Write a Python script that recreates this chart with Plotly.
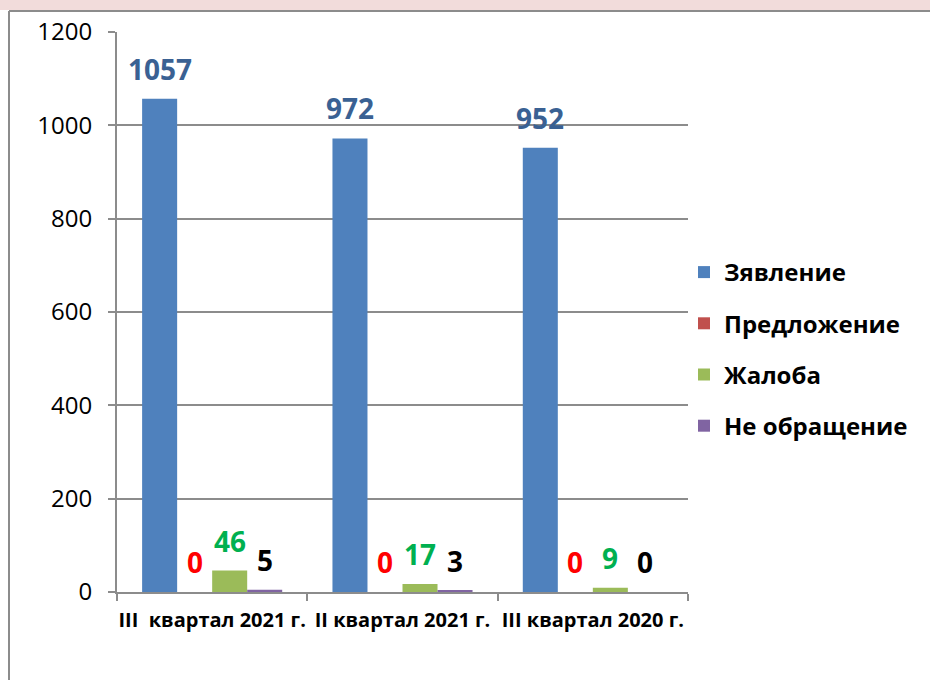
import plotly.graph_objects as go

# ---- data ----
categories = ["III\u00a0\u00a0квартал 2021 г.", "II квартал 2021 г.", "III квартал 2020 г."]
series_names = ["Зявление", "Предложение", "Жалоба", "Не обращение"]
zayavlenie = [1057, 972, 952]
predlozhenie = [0, 0, 0]
zhaloba = [46, 17, 9]
ne_obrashchenie = [5, 3, 0]
y_ticks = [0, 200, 400, 600, 800, 1000, 1200]

series_values = [zayavlenie, predlozhenie, zhaloba, ne_obrashchenie]
bar_colors = ["#4f81bd", "#c0504d", "#9bbb59", "#8064a2"]
label_colors = ["#3a6193", "#ff0000", "#00b050", "#000000"]

FONT = "Open Sans"
W, H = 930, 680
ML, MR, MT, MB = 117, 242, 32, 88
BARGAP = 0.264
plot_w = W - ML - MR
plot_h = H - MT - MB
cat_px = plot_w / len(categories)
bar_px = cat_px * (1 - BARGAP) / len(series_names)


def px_x(px):
    return (px - ML) / plot_w


def px_y(py):
    return (H - MB - py) / plot_h


fig = go.Figure()
for name, vals, col in zip(series_names, series_values, bar_colors):
    fig.add_trace(go.Bar(
        x=categories, y=vals, name=name, marker=dict(color=col, line=dict(width=0)),
        legendgroup=name,
    ))

annotations = []
for i, (vals, lc) in enumerate(zip(series_values, label_colors)):
    for c, v in zip(categories, vals):
        annotations.append(dict(
            x=c, y=v, xref="x", yref="y", text=str(v), showarrow=False,
            xshift=(i - 1.5) * bar_px, yshift=30, yanchor="middle",
            font=dict(family=FONT, size=28, color=lc, weight="bold"),
        ))

shapes = [
    dict(type="rect", xref="paper", yref="paper", x0=px_x(-5), x1=px_x(W + 5),
         y0=px_y(10), y1=px_y(-5), fillcolor="#f2dcdb", line=dict(width=0), layer="below"),
    dict(type="line", xref="paper", yref="paper", x0=px_x(9), x1=px_x(W + 5),
         y0=px_y(11), y1=px_y(11), line=dict(color="#8c8c8c", width=2)),
    dict(type="line", xref="paper", yref="paper", x0=px_x(9), x1=px_x(9),
         y0=px_y(11), y1=px_y(H + 5), line=dict(color="#8c8c8c", width=2)),
]

fig.update_layout(
    width=W, height=H,
    margin=dict(l=ML, r=MR, t=MT, b=MB, autoexpand=False),
    paper_bgcolor="white", plot_bgcolor="white",
    barmode="group", bargap=BARGAP, bargroupgap=0,
    font=dict(family=FONT, color="black"),
    showlegend=True,
    legend=dict(x=px_x(684), xanchor="left", y=px_y(349), yanchor="middle",
                font=dict(family=FONT, size=24, color="black", weight="bold"),
                tracegroupgap=17, traceorder="grouped", itemwidth=30,
                bgcolor="rgba(0,0,0,0)"),
    annotations=annotations,
    shapes=shapes,
)
fig.update_xaxes(
    showline=True, linecolor="#8c8c8c", linewidth=2,
    ticks="outside", tickson="boundaries", ticklen=7, tickcolor="#8c8c8c", tickwidth=2,
    tickangle=0, tickfont=dict(family=FONT, size=20, color="black", weight="bold"),
    showgrid=False, ticklabelstandoff=9,
)
fig.update_yaxes(
    range=[0, 1200], tickvals=y_ticks, showline=True, linecolor="#8c8c8c", linewidth=2,
    ticks="outside", ticklen=7, tickcolor="#8c8c8c", tickwidth=2,
    showgrid=True, gridcolor="#8c8c8c", gridwidth=1.5, zeroline=False,
    tickfont=dict(family=FONT, size=24, color="black"), ticklabelstandoff=11,
)

fig.write_html("out.html", config={"displayModeBar": False},
               post_script="document.body.style.margin='0';")
